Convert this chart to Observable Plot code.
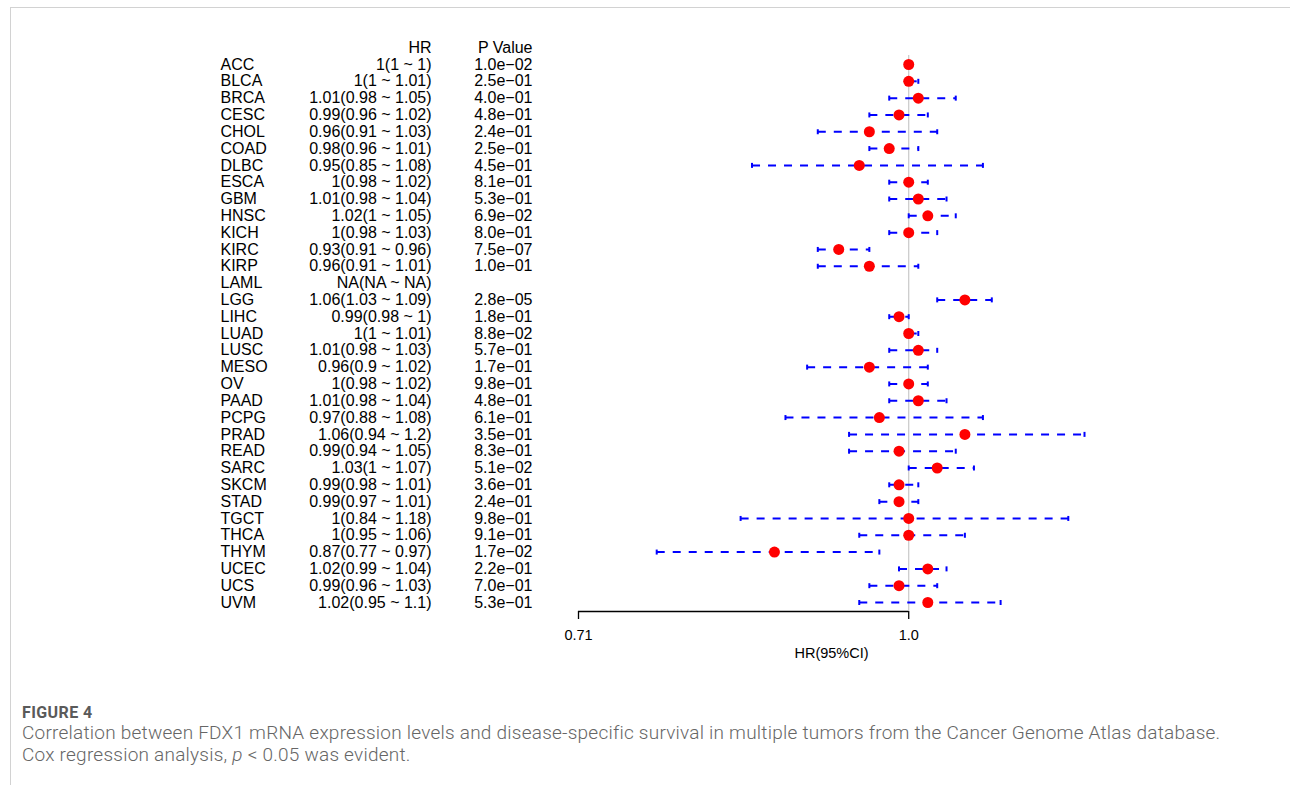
<!DOCTYPE html>
<html><head><meta charset="utf-8">
<script src="https://cdn.jsdelivr.net/npm/d3@7"></script>
<script src="https://cdn.jsdelivr.net/npm/@observablehq/plot@0.6"></script>
<style>
html,body{margin:0;padding:0;background:#fff;}
body{width:1290px;height:785px;position:relative;overflow:hidden;}
#card{position:absolute;left:10px;top:7px;right:-2px;bottom:-2px;border-top:1.5px solid #d2d2d2;border-left:1.5px solid #d2d2d2;}
#chart{position:absolute;left:0;top:0;}
#cap{position:absolute;left:22px;top:702.5px;font-family:Roboto,"Open Sans",sans-serif;color:#666;}
#cap .fig{font-weight:700;font-size:16px;color:#5a5a5a;line-height:19px;letter-spacing:0.4px;white-space:nowrap;}
#cap .txt{font-size:19px;line-height:22.5px;font-weight:300;white-space:nowrap;}
#cap .txt span{display:block;}
</style>
</head><body>
<div id="card"></div>
<div id="chart"></div>
<div id="cap"><div class="fig">FIGURE 4</div><div class="txt"><span id="l1">Correlation between FDX1 mRNA expression levels and disease-specific survival in multiple tumors from the Cancer Genome Atlas database.</span><span id="l2">Cox regression analysis, <i>p</i> &lt; 0.05 was evident.</span></div></div>
<script>
const cancers = ["ACC","BLCA","BRCA","CESC","CHOL","COAD","DLBC","ESCA","GBM","HNSC","KICH","KIRC","KIRP","LAML","LGG","LIHC","LUAD","LUSC","MESO","OV","PAAD","PCPG","PRAD","READ","SARC","SKCM","STAD","TGCT","THCA","THYM","UCEC","UCS","UVM"];
const hr =    [1,1,1.01,0.99,0.96,0.98,0.95,1,1.01,1.02,1,0.93,0.96,null,1.06,0.99,1,1.01,0.96,1,1.01,0.97,1.06,0.99,1.03,0.99,0.99,1,1,0.87,1.02,0.99,1.02];
const lower = [1,1,0.98,0.96,0.91,0.96,0.85,0.98,0.98,1,0.98,0.91,0.91,null,1.03,0.98,1,0.98,0.9,0.98,0.98,0.88,0.94,0.94,1,0.98,0.97,0.84,0.95,0.77,0.99,0.96,0.95];
const upper = [1,1.01,1.05,1.02,1.03,1.01,1.08,1.02,1.04,1.05,1.03,0.96,1.01,null,1.09,1,1.01,1.03,1.02,1.02,1.04,1.08,1.2,1.05,1.07,1.01,1.01,1.18,1.06,0.97,1.04,1.03,1.1];
const pValues = ["1.0e\u221202","2.5e\u221201","4.0e\u221201","4.8e\u221201","2.4e\u221201","2.5e\u221201","4.5e\u221201","8.1e\u221201","5.3e\u221201","6.9e\u221202","8.0e\u221201","7.5e\u221207","1.0e\u221201","","2.8e\u221205","1.8e\u221201","8.8e\u221202","5.7e\u221201","1.7e\u221201","9.8e\u221201","4.8e\u221201","6.1e\u221201","3.5e\u221201","8.3e\u221201","5.1e\u221202","3.6e\u221201","2.4e\u221201","9.8e\u221201","9.1e\u221201","1.7e\u221202","2.2e\u221201","7.0e\u221201","5.3e\u221201"];
const headers = ["HR","P Value"];
const xDomain = [0.71, 1.2];
const xTicks = [0.71, 1];
const xTickLabels = ["0.71","1.0"];
const xLabel = "HR(95%CI)";

const fmt = v => v == null ? "NA" : String(v);
const rows = cancers.map((c,i)=>({cancer:c, hr:hr[i], lo:lower[i], hi:upper[i], p:pValues[i],
  label:`${fmt(hr[i])}(${fmt(lower[i])} ~ ${fmt(upper[i])})`}));
const valid = rows.filter(d=>d.hr!=null);
const ci = valid.filter(d=>d.hi>d.lo);
const ends = ci.flatMap(d=>[{cancer:d.cancer, v:d.lo},{cancer:d.cancer, v:d.hi}]);
const tickRows = xTicks.map((v,i)=>({v, label:xTickLabels[i]}));
const first = cancers[0], last = cancers[cancers.length-1];
const endTick = {draw(ctx){ ctx.moveTo(0,-2.5); ctx.lineTo(0,2.5); }};

const chart = Plot.plot({
  width:1290, height:670,
  marginLeft:578, marginRight:206, marginTop:0, marginBottom:59,
  x:{type:"log", domain:xDomain},
  y:{type:"point", domain:cancers, range:[64,602], padding:0, round:false, axis:null},
  style:{fontFamily:"'Liberation Sans', Arial, sans-serif", fontSize:"16px", color:"#000", background:"transparent", overflow:"visible"},
  marks:[
    Plot.ruleX([1], {y1:()=>first, y2:()=>last, insetTop:-9, insetBottom:-9, stroke:"#c8c8c8", strokeWidth:1.2}),
    Plot.link(ci, {x1:"lo", x2:"hi", y1:"cancer", y2:"cancer", stroke:"#0000ff", strokeWidth:2, strokeDasharray:"8,8"}),
    Plot.dot(ends, {x:"v", y:"cancer", symbol:endTick, stroke:"#0000ff", strokeWidth:2, fill:"none", r:3}),
    Plot.dot(valid, {x:"hr", y:"cancer", r:5.5, fill:"#ff0000", stroke:"none"}),
    Plot.text(rows, {y:"cancer", text:"cancer", frameAnchor:"left", dx:-358, textAnchor:"start"}),
    Plot.text(rows, {y:"cancer", text:"label", frameAnchor:"left", dx:-147, textAnchor:"end"}),
    Plot.text(rows, {y:"cancer", text:"p", frameAnchor:"left", dx:-46, textAnchor:"end"}),
    Plot.text([headers[0]], {y:()=>first, frameAnchor:"left", dx:-147, dy:-17, textAnchor:"end"}),
    Plot.text([headers[1]], {y:()=>first, frameAnchor:"left", dx:-46, dy:-17, textAnchor:"end"}),
    Plot.ruleY([last], {x1:xTicks[0], x2:xTicks[1], dy:9, stroke:"#000", strokeWidth:1.3}),
    Plot.axisX(xTicks, {anchor:"bottom", tickFormat:()=>"", tickSize:8, label:null, stroke:"#000", strokeWidth:1.3}),
    Plot.text(tickRows, {x:"v", text:"label", frameAnchor:"bottom", dy:28, fontSize:14.5}),
    Plot.text([xLabel], {frameAnchor:"bottom", dy:46, fontSize:14.5})
  ]
});
document.getElementById("chart").appendChild(chart);

// stretch the caption's letter spacing so line 1 spans the reference width
const l1 = document.getElementById("l1");
const target = 1198;
const w = l1.getBoundingClientRect().width;
const n = l1.textContent.length;
const ls = Math.max(0, Math.min(1.5, (target - w) / n));
document.querySelector("#cap .txt").style.letterSpacing = ls + "px";
</script>
</body></html>
